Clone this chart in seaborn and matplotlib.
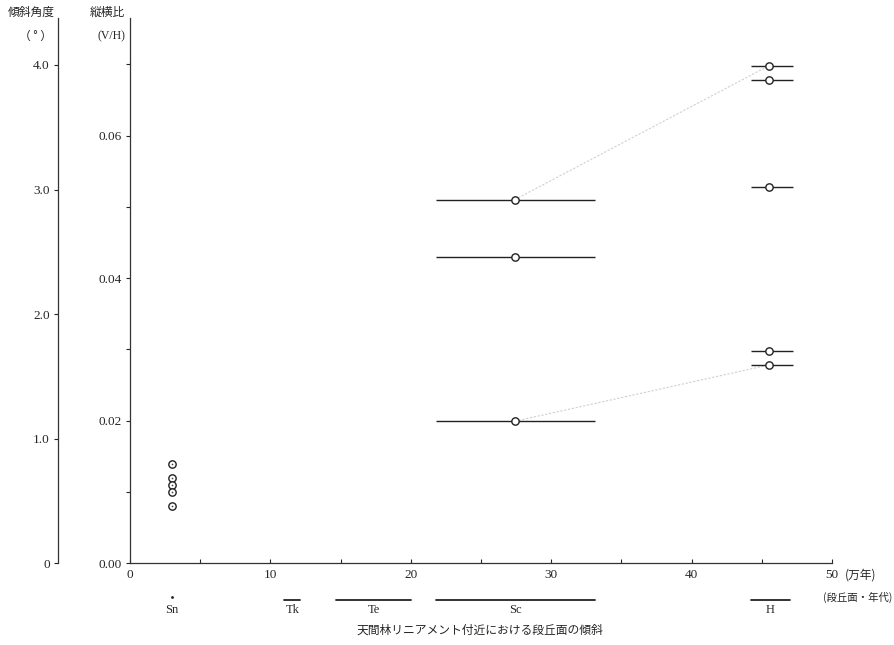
import numpy as np
import matplotlib
matplotlib.use('Agg')
import matplotlib.pyplot as plt
import matplotlib.transforms as mtransforms
import seaborn as sns
import pandas as pd

# data (age in 10^4 years, slope as V/H)
sn_age = 3.0
sn_vh = [0.0139, 0.0119, 0.0110, 0.0100, 0.0080]
sc_age = 27.4
sc_range = [21.8, 33.1]
sc_vh = [0.0510, 0.0430, 0.0199]
h_age = 45.5
h_range = [44.2, 47.2]
h_vh = [0.0698, 0.0678, 0.0528, 0.0298, 0.0278]

# faint trend lines (Sc -> H)
trend_from = [0.0510, 0.0199]
trend_to = [0.0698, 0.0278]

# terrace periods shown under the x axis
terrace_names = ['Sn', 'Tk', 'Te', 'Sc', 'H']
terrace_start = [3.0, 11.0, 14.7, 21.8, 44.2]
terrace_end = [3.0, 12.1, 20.0, 33.1, 47.0]

angle_ticks = [0, 1, 2, 3, 4]
angle_labels = ['0', '1.0', '2.0', '3.0', '4.0']

sns.set_style('ticks')
plt.rcParams['font.family'] = ['Liberation Serif', 'Noto Sans CJK JP', 'DejaVu Sans']
jp = ['Noto Sans CJK JP', 'DejaVu Sans']

fig = plt.figure(figsize=(8.95, 6.45), dpi=100)
ax = fig.add_axes([0.1453, 0.1271, 0.7844, 0.845])
ax_ang = fig.add_axes([0.0648, 0.1271, 0.0001, 0.845])

# points
pts = pd.DataFrame({
    'age': [sn_age] * len(sn_vh) + [sc_age] * len(sc_vh) + [h_age] * len(h_vh),
    'vh': sn_vh + sc_vh + h_vh,
})
ax.hlines(sc_vh, sc_range[0], sc_range[1], color='#222222', lw=1.0, zorder=2)
ax.hlines(h_vh, h_range[0], h_range[1], color='#222222', lw=1.0, zorder=2)
for a, b in zip(trend_from, trend_to):
    ax.plot([sc_age, h_age], [a, b], color='#cfcfcf', lw=0.8, ls=(0, (2, 1.5)), zorder=1)
sns.scatterplot(data=pts, x='age', y='vh', ax=ax, marker='o', s=28,
                facecolor='white', edgecolor='#222222', linewidth=1.0, zorder=3)
sns.scatterplot(x=[sn_age] * len(sn_vh), y=sn_vh, ax=ax, marker='.', s=6,
                color='#444444', linewidth=0, zorder=4)

ax.set_xlim(0, 50)
ax.set_ylim(0, 0.0765)
ax.set_xticks(np.arange(0, 51, 5))
ax.set_xticklabels([str(v) if v % 10 == 0 else '' for v in range(0, 51, 5)])
ax.set_yticks(np.arange(0, 0.071, 0.01))
ax.set_yticklabels(['0.00', '', '0.02', '', '0.04', '', '0.06', ''])
ax.tick_params(axis='x', direction='in', length=3, width=0.8, labelsize=9.5, pad=4)
ax.tick_params(axis='y', direction='out', length=3, width=0.8, labelsize=9.5, pad=3)
for s in ['top', 'right']:
    ax.spines[s].set_visible(False)
for s in ['left', 'bottom']:
    ax.spines[s].set_color('#333333')
    ax.spines[s].set_linewidth(0.9)
ax.set_xlabel('')
ax.set_ylabel('')

# left axis in slope angle (degrees), ticks at tan(angle)
ax_ang.set_ylim(0, 0.0765)
ax_ang.set_yticks(np.tan(np.radians(angle_ticks)))
ax_ang.set_yticklabels(angle_labels)
ax_ang.set_xticks([])
ax_ang.tick_params(axis='y', direction='out', length=3, width=0.8, labelsize=9.5, pad=3)
for s in ['top', 'right', 'bottom']:
    ax_ang.spines[s].set_visible(False)
ax_ang.spines['left'].set_color('#333333')
ax_ang.spines['left'].set_linewidth(0.9)
ax_ang.patch.set_visible(False)

# terrace period bars below the axis
tr = mtransforms.blended_transform_factory(ax.transData, ax.transAxes)
for name, x0, x1 in zip(terrace_names, terrace_start, terrace_end):
    if x1 > x0:
        ax.plot([x0, x1], [-0.067, -0.067], color='#222222', lw=1.3,
                transform=tr, clip_on=False)
    else:
        ax.plot([x0], [-0.062], marker='.', ms=2, color='#222222',
                transform=tr, clip_on=False)
    ax.text((x0 + x1) / 2, -0.075, name, transform=tr, ha='center', va='top',
            fontsize=9)

# labels
fig.text(55 / 895, 1 - 12 / 645, '傾斜角度', ha='right', va='center', fontsize=8.5, family=jp)
fig.text(52 / 895, 1 - 36 / 645, '（ ° ）', ha='right', va='center', fontsize=8.5, family=jp)
fig.text(125 / 895, 1 - 12 / 645, '縦横比', ha='right', va='center', fontsize=8.5, family=jp)
fig.text(125 / 895, 1 - 36 / 645, '(V/H)', ha='right', va='center', fontsize=8.5)
fig.text(845 / 895, 1 - 575 / 645, '(万年)', ha='left', va='center', fontsize=8.5, family=jp)
fig.text(892 / 895, 1 - 597 / 645, '(段丘面・年代)', ha='right', va='center', fontsize=7.5, family=jp)
fig.text(480 / 895, 1 - 630 / 645, '天間林リニアメント付近における段丘面の傾斜',
         ha='center', va='center', fontsize=8.5, family=jp)

fig.savefig('out.png', dpi=100)
